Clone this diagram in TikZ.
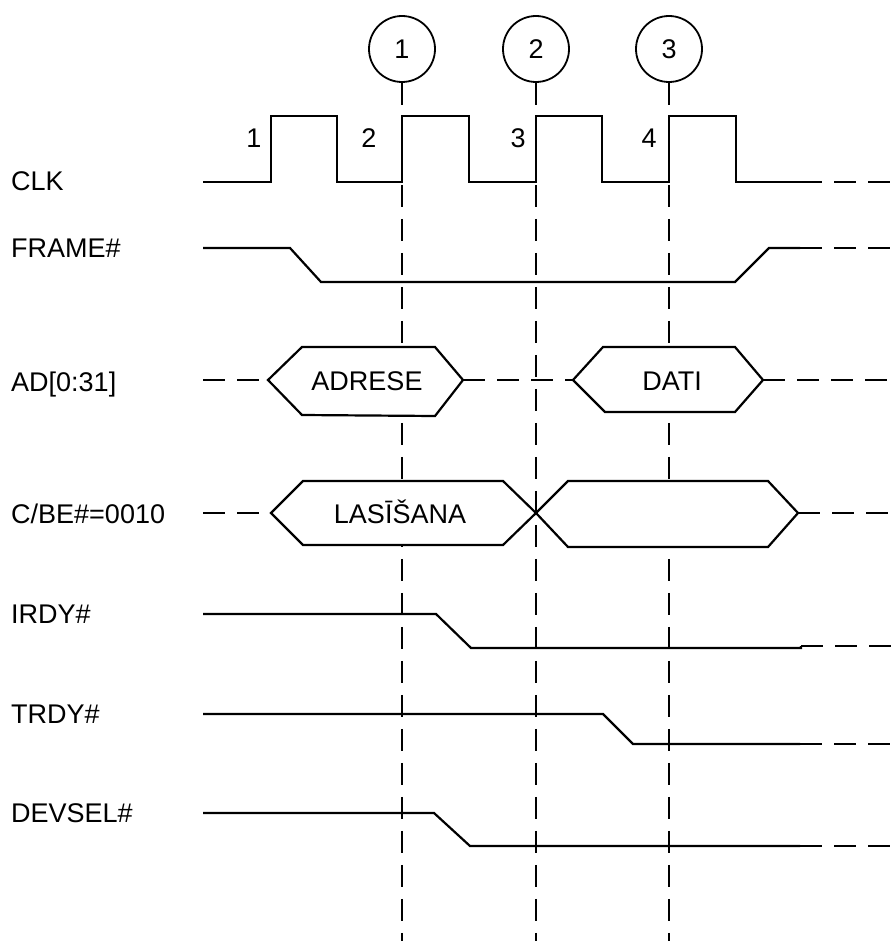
\documentclass[tikz,border=0pt]{standalone}
\usepackage{fontspec}
\setmainfont{Liberation Sans}
\usetikzlibrary{positioning}
\tikzset{
  sig/.style={line width=2.2pt, line join=miter},
  guide/.style={line width=2.2pt, dash pattern=on 22pt off 12pt},
  marker/.style={circle, draw, line width=1.8pt, minimum size=66pt, inner sep=0pt},
  lbl/.style={anchor=base west, inner sep=0pt},
  bustxt/.style={anchor=base, inner sep=0pt},
  busbox/.style={line width=2.2pt, fill=white, line join=miter},
}

\begin{document}
\begin{tikzpicture}[x=1pt, y=-1pt, font=\fontsize{27}{32}\selectfont]
  \useasboundingbox (0,0) rectangle (892,941);
  % time markers and guide lines
  \foreach \n/\x in {1/402, 2/536, 3/669}{
    \node[marker] (m\n) at (\x,49) {\n};
    \coordinate (g\n) at (\x,941);
    \draw[guide] (m\n.south) -- (g\n);
  }
  % signal names
  \foreach \name/\y/\txt in {clk/191/CLK, frame/257/{FRAME\#}, ad/391/{AD[0:31]},
      cbe/523/{C/BE\#=0010}, irdy/623/{IRDY\#}, trdy/723/{TRDY\#}, devsel/822/{DEVSEL\#}}{
    \node[lbl] (l\name) at (11,\y) {\txt};
  }
  % clock
  \draw[sig] (203,182) -- (271,182) -- (271,116) -- (337,116) -- (337,182)
    -- (402,182) -- (402,116) -- (469,116) -- (469,182)
    -- (536,182) -- (536,116) -- (602,116) -- (602,182)
    -- (669,182) -- (669,116) -- (736,116) -- (736,182) -- (800,182);
  \draw[guide] (800,182) -- (892,182);
  \foreach \n/\x in {1/254, 2/369, 3/518, 4/649}{
    \node (c\n) at (\x,138) {\n};
  }
  % FRAME#
  \draw[sig] (203,248) -- (290,248) -- (321,282) -- (735,282) -- (769,248) -- (800,248);
  \draw[guide] (800,248) -- (892,248);
  % AD[0:31]
  \draw[guide] (203,380) -- (268,380);
  \draw[guide] (463,380) -- (573,380);
  \draw[guide] (763,380) -- (892,380);
  \draw[busbox] (268,380) -- (302,347) -- (435,347) -- (463,380) -- (435,416) -- (302,415) -- cycle;
  \node[bustxt] (adrese) at (367,390) {ADRESE};
  \draw[busbox] (573,380) -- (603,347) -- (735,347) -- (763,380) -- (735,412) -- (605,412) -- cycle;
  \node[bustxt] (dati) at (672,390) {DATI};
  % C/BE#
  \draw[guide] (203,513) -- (271,513);
  \draw[guide] (798,513) -- (892,513);
  \draw[busbox] (271,513) -- (303,481) -- (503,481) -- (536,513) -- (503,545) -- (303,545) -- cycle;
  \node[bustxt] (lasisana) at (400,523) {LASĪŠANA};
  \draw[busbox] (536,513) -- (568,481) -- (768,481) -- (798,513) -- (768,547) -- (568,547) -- cycle;
  % IRDY#
  \draw[sig] (203,614) -- (436,614) -- (471,648) -- (801,648) -- (801,646);
  \draw[guide] (801,646) -- (892,646);
  % TRDY#
  \draw[sig] (203,714) -- (603,714) -- (633,744) -- (800,744);
  \draw[guide] (800,744) -- (892,744);
  % DEVSEL#
  \draw[sig] (203,813) -- (434,813) -- (470,846) -- (800,846);
  \draw[guide] (800,846) -- (892,846);
\end{tikzpicture}
\end{document}
